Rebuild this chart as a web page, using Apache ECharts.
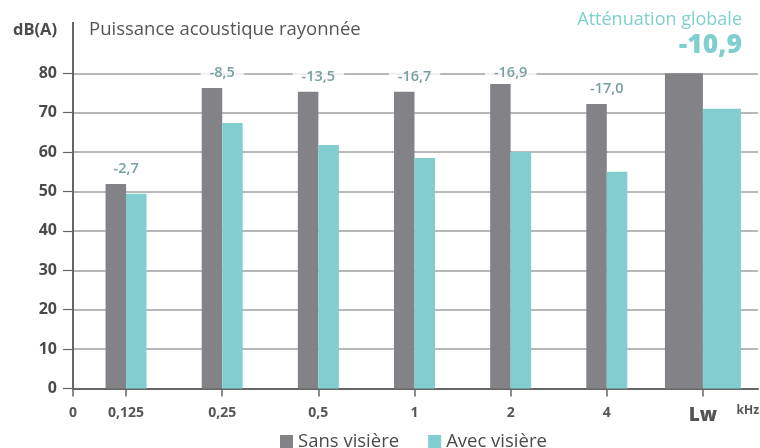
<!DOCTYPE html>
<html><head><meta charset="utf-8">
<script src="https://cdn.jsdelivr.net/npm/echarts@6/dist/echarts.min.js"></script>
<style>html,body{margin:0;padding:0;background:#fff}#c{width:760px;height:448px}</style>
</head><body><div id="c"></div>
<script>
const categories = ['0,125', '0,25', '0,5', '1', '2', '4', 'Lw'];
const sansVisiere = [51.9, 76.3, 75.3, 75.3, 77.3, 72.2];
const avecVisiere = [49.4, 67.4, 61.8, 58.5, 60.0, 55.0];
const sansLw = 80;
const avecLw = 71.0;
const attenuationLabels = ['-2,7', '-8,5', '-13,5', '-16,7', '-16,9', '-17,0'];
const globalAttenuation = '-10,9';
const yTicks = [0, 10, 20, 30, 40, 50, 60, 70, 80];

const FONT = 'Open Sans';
const GRAY = '#838387', TEAL = '#82cdcf', TXT = '#4a4a4a';
const chart = echarts.init(document.getElementById('c'));

const padNull = (arr, n) => arr.concat(new Array(n - arr.length).fill(null));
const lwOnly = v => categories.map((c, i) => i === categories.length - 1 ? v : null);
const labelPoints = sansVisiere.map((v, i) => [i, Math.min(v + 3.8, 80)]);

const option = {
  animation: false,
  textStyle: { fontFamily: FONT },
  grid: [
    { left: 78, right: 9, top: 73.3, bottom: 59.5 },
    { left: 73, right: 2, top: 73.3, bottom: 59.5 }
  ],
  xAxis: [
    { type: 'category', gridIndex: 0, data: categories,
      axisLine: { show: false },
      axisTick: { show: true, alignWithLabel: true, length: 8, lineStyle: { color: '#666', width: 1.5 } },
      axisLabel: { margin: 18, color: '#555', fontSize: 14, fontWeight: 700, fontFamily: FONT,
        formatter: v => v === 'Lw' ? '{lw|Lw}' : v,
        rich: { lw: { fontSize: 19, fontWeight: 800, color: '#555', fontFamily: FONT, padding: [0, 0, 7, 0] } } } },
    { type: 'category', gridIndex: 0, data: categories, show: false },
    { type: 'value', gridIndex: 1, min: 0, max: 1,
      axisLine: { show: true, lineStyle: { color: '#666', width: 2 } },
      axisTick: { show: true, customValues: [0], length: 8, lineStyle: { color: '#666', width: 1.5 } },
      axisLabel: { show: true, customValues: [0], formatter: () => '0', margin: 18, color: '#555', fontSize: 14, fontWeight: 700, fontFamily: FONT },
      splitLine: { show: false } }
  ],
  yAxis: [
    { type: 'value', gridIndex: 0, min: 0, max: 80, show: false, splitLine: { show: false } },
    { type: 'value', gridIndex: 1, min: 0, max: 80, interval: 10,
      axisLine: { show: true, lineStyle: { color: '#666', width: 2 } },
      axisTick: { show: true, inside: false, length: 10, lineStyle: { color: '#666', width: 1.2 } },
      axisLabel: { margin: 16, color: TXT, fontSize: 16, fontWeight: 700, fontFamily: FONT,
        formatter: v => yTicks.includes(v) ? String(v) : '' },
      splitLine: { show: true, lineStyle: { color: '#a0a0a0', width: 1.6 } } }
  ],
  legend: {
    left: 280, top: 432, itemWidth: 13, itemHeight: 13, itemGap: 29, icon: 'rect', padding: 0,
    data: ['Sans visière', 'Avec visière'],
    textStyle: { fontSize: 18.5, color: TXT, fontFamily: FONT }
  },
  series: [
    { name: 'Sans visière', type: 'bar', xAxisIndex: 0, yAxisIndex: 0, data: padNull(sansVisiere, categories.length),
      barWidth: 20.5, barGap: 0, itemStyle: { color: GRAY } },
    { name: 'Avec visière', type: 'bar', xAxisIndex: 0, yAxisIndex: 0, data: padNull(avecVisiere, categories.length),
      barWidth: 20.5, barGap: 0, itemStyle: { color: TEAL } },
    { name: 'Sans visière', type: 'bar', xAxisIndex: 1, yAxisIndex: 0, data: lwOnly(sansLw),
      barWidth: 38, barGap: 0, itemStyle: { color: GRAY } },
    { name: 'Avec visière', type: 'bar', xAxisIndex: 1, yAxisIndex: 0, data: lwOnly(avecLw),
      barWidth: 38, barGap: 0, itemStyle: { color: TEAL } },
    { name: 'labels', type: 'scatter', xAxisIndex: 0, yAxisIndex: 0, data: labelPoints, symbolSize: 0, z: 5,
      label: { show: true, position: 'inside', formatter: p => attenuationLabels[p.dataIndex],
        color: '#578689', fontSize: 14.5, fontWeight: 600, fontFamily: FONT,
        backgroundColor: '#fff', padding: [1, 9] } }
  ],
  graphic: [
    { type: 'text', left: 13, top: 22, style: { text: 'dB(A)', fontSize: 16.5, fontWeight: 700, fill: TXT, fontFamily: FONT } },
    { type: 'text', left: 89, top: 20, style: { text: 'Puissance acoustique rayonnée', fontSize: 18.5, fill: '#555', fontFamily: FONT } },
    { type: 'text', right: 18, top: 11, style: { text: 'Atténuation globale', fontSize: 18, fill: '#80cfd0', fontFamily: FONT } },
    { type: 'text', right: 18, top: 32, style: { text: globalAttenuation, fontSize: 26.5, fontWeight: 800, fill: '#80cfd0', fontFamily: FONT } },
    { type: 'text', right: 1, top: 405, style: { text: 'kHz', fontSize: 12, fontWeight: 700, fill: '#555', fontFamily: FONT } }
  ]
};
chart.setOption(option);

// extend the vertical axis line above the top gridline
const top80 = chart.convertToPixel({ gridIndex: 1 }, [0, 80]);
chart.setOption({ graphic: option.graphic.concat([
  { type: 'line', shape: { x1: top80[0], y1: 22, x2: top80[0], y2: top80[1] }, style: { stroke: '#666', lineWidth: 2 } }
]) });
</script></body></html>
